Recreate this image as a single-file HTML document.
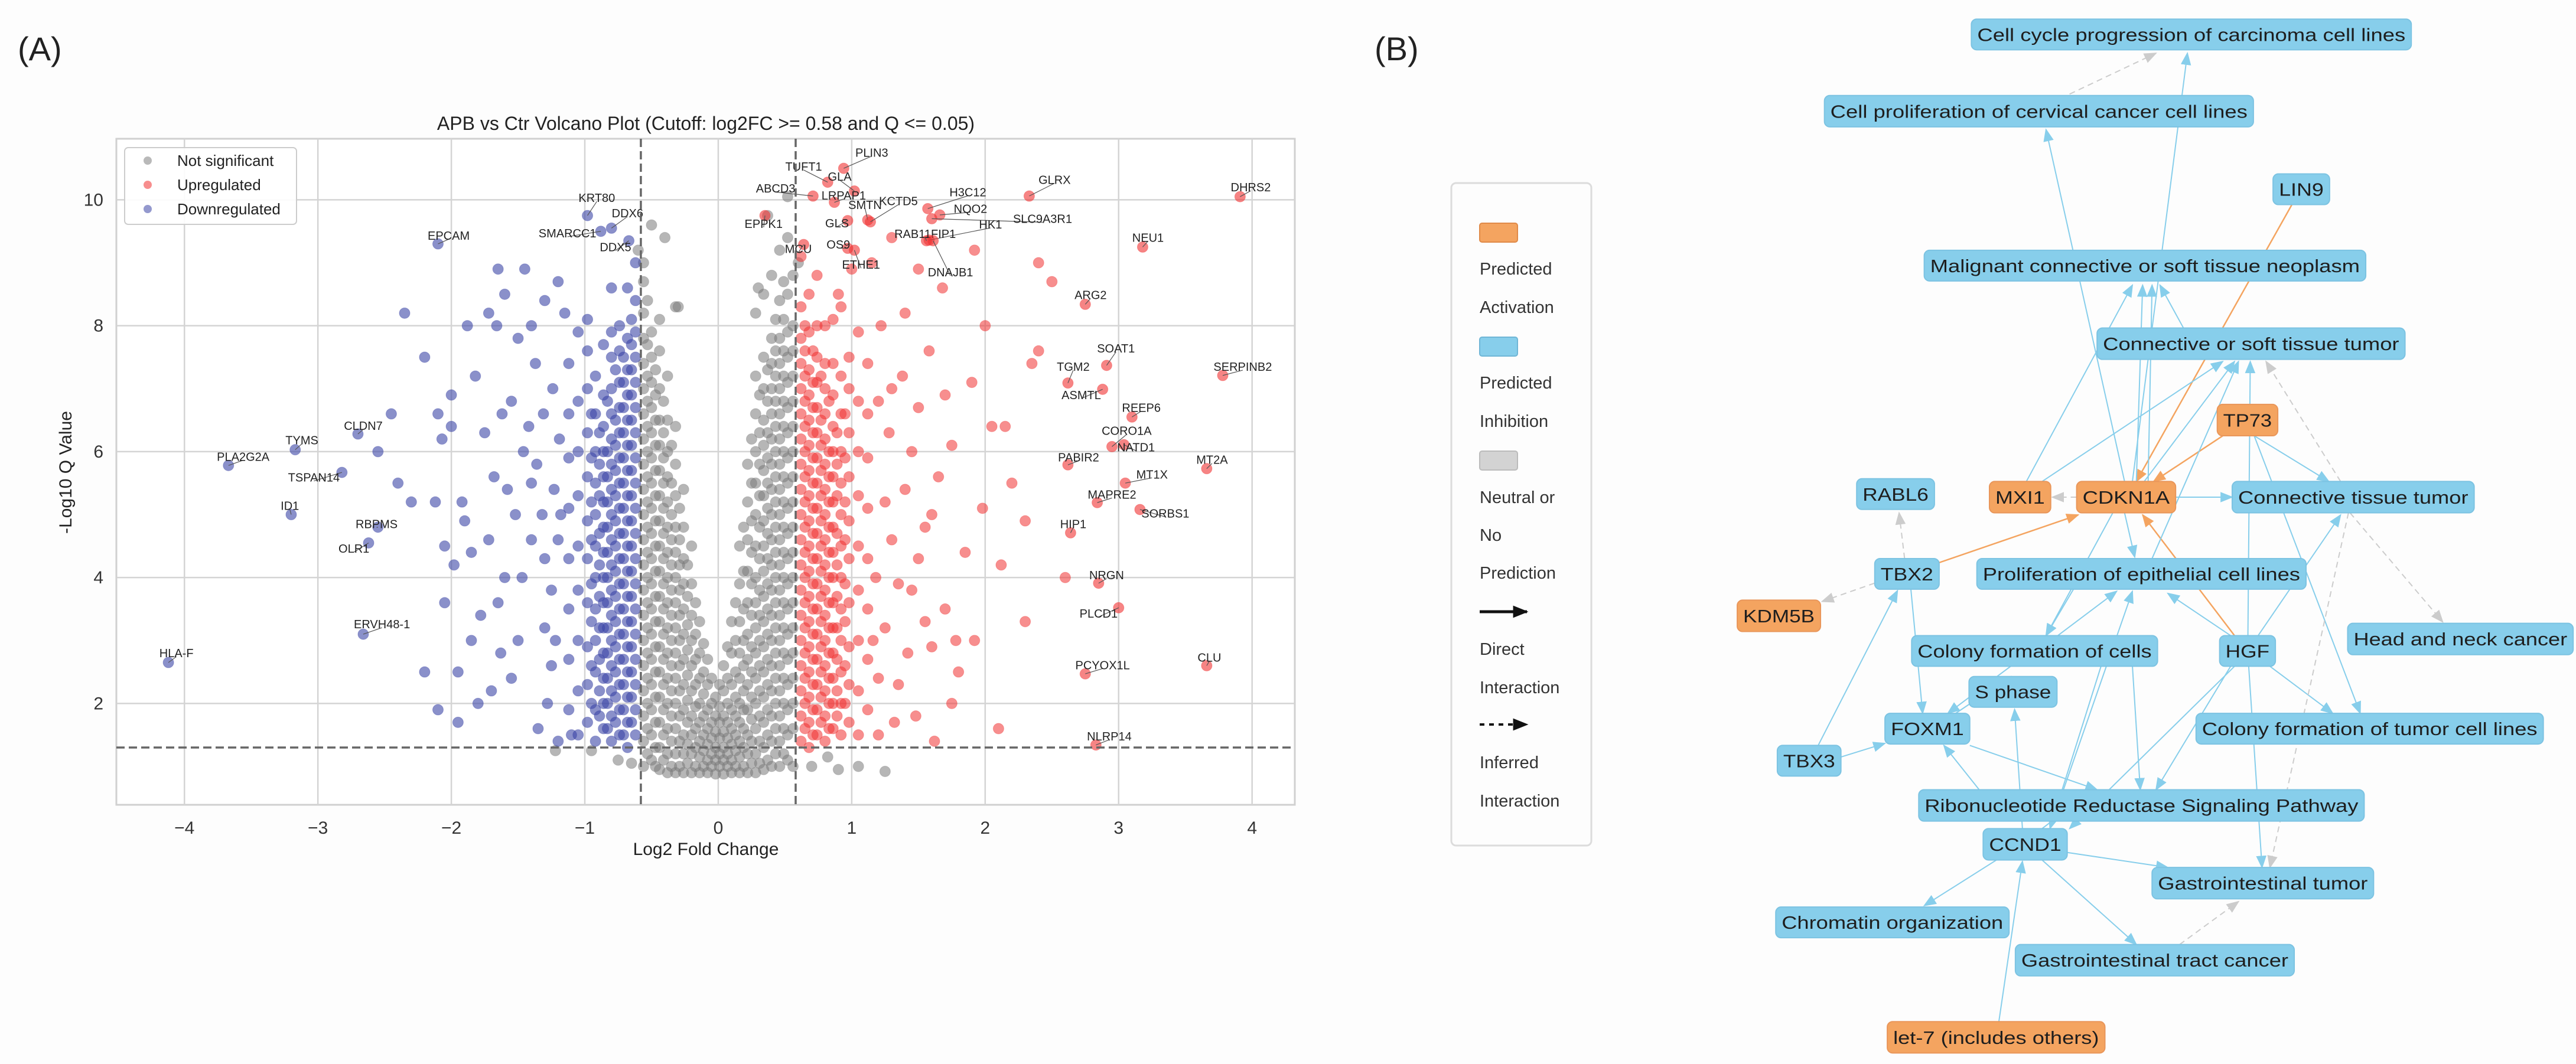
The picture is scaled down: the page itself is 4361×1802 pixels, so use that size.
<!DOCTYPE html>
<html><head><meta charset="utf-8"><style>
html,body{margin:0;padding:0;background:#fdfdfd;}
svg{display:block;font-family:"Liberation Sans",sans-serif;}
</style></head><body>
<svg id="fig" width="4361" height="1802" viewBox="0 0 4361 1802" xmlns="http://www.w3.org/2000/svg">
<defs>
<marker id="ab" viewBox="0 0 10 10" refX="9" refY="5" markerWidth="22" markerHeight="22" markerUnits="userSpaceOnUse" orient="auto"><path d="M0,1 L10,5 L0,9 z" fill="#87ceeb"/></marker>
<marker id="ao" viewBox="0 0 10 10" refX="9" refY="5" markerWidth="22" markerHeight="22" markerUnits="userSpaceOnUse" orient="auto"><path d="M0,1 L10,5 L0,9 z" fill="#f4a460"/></marker>
<marker id="ag" viewBox="0 0 10 10" refX="9" refY="5" markerWidth="22" markerHeight="22" markerUnits="userSpaceOnUse" orient="auto"><path d="M0,1 L10,5 L0,9 z" fill="#cccccc"/></marker>
<marker id="ak" viewBox="0 0 10 10" refX="9" refY="5" markerWidth="26" markerHeight="26" markerUnits="userSpaceOnUse" orient="auto"><path d="M0,1 L10,5 L0,9 z" fill="#111"/></marker>
</defs>
<text x="30" y="102" font-size="56" fill="#222">(A)</text>
<text x="2327" y="102" font-size="56" fill="#222">(B)</text>
<g id="plot"></g>
<g id="net"></g>
<g id="legB">
<rect x="2457" y="310" width="237" height="1122" rx="8" fill="#fdfdfd" stroke="#dcdcdc" stroke-width="3"/>
<rect x="2505" y="378" width="64" height="32" rx="4" fill="#f4a460" stroke="#e08a48" stroke-width="2"/>
<text x="2505" y="465" font-size="29" fill="#333"><tspan x="2505">Predicted</tspan><tspan x="2505" dy="65">Activation</tspan></text>
<rect x="2505" y="571" width="64" height="32" rx="4" fill="#87ceeb" stroke="#6fb6d6" stroke-width="2"/>
<text x="2505" y="658" font-size="29" fill="#333"><tspan x="2505">Predicted</tspan><tspan x="2505" dy="65">Inhibition</tspan></text>
<rect x="2505" y="764" width="64" height="32" rx="4" fill="#d3d3d3" stroke="#bbb" stroke-width="2"/>
<text x="2505" y="852" font-size="29" fill="#333"><tspan x="2505">Neutral or</tspan><tspan x="2505" dy="64">No</tspan><tspan x="2505" dy="64">Prediction</tspan></text>
<line x1="2505" y1="1036" x2="2585" y2="1036" stroke="#111" stroke-width="5" marker-end="url(#ak)"/>
<text x="2505" y="1109" font-size="29" fill="#333"><tspan x="2505">Direct</tspan><tspan x="2505" dy="65">Interaction</tspan></text>
<line x1="2505" y1="1227" x2="2585" y2="1227" stroke="#111" stroke-width="4" stroke-dasharray="8,8" marker-end="url(#ak)"/>
<text x="2505" y="1301" font-size="29" fill="#333"><tspan x="2505">Inferred</tspan><tspan x="2505" dy="65">Interaction</tspan></text>
</g>
</svg>
<script>
// ===== Volcano data =====
const xTicks = [-4,-3,-2,-1,0,1,2,3,4];
const yTicks = [2,4,6,8,10];
const fcCutoff = 0.58;
const qCutoff = 1.3;
const grayCols = [
[-0.56,[1.0,1.4,1.8,2.2,2.6,3.0,3.4,3.8,4.2,4.6,5.0,5.4,5.8,6.2,6.6,7.0,7.4,7.8,8.2,8.7,9.0]],
[-0.53,[1.2,1.6,2.0,2.4,2.8,3.2,3.6,4.0,4.4,4.8,5.2,5.6,6.0,6.4,6.8,7.2,7.7,8.4]],
[-0.50,[1.1,1.5,1.9,2.3,2.7,3.1,3.5,3.9,4.3,4.7,5.1,5.5,5.9,6.3,6.7,7.1,7.5,7.9]],
[-0.47,[1.0,1.3,1.7,2.1,2.5,2.9,3.3,3.7,4.1,4.5,4.9,5.3,5.7,6.1,6.5,6.9,7.3]],
[-0.44,[0.95,1.3,1.7,2.1,2.5,2.9,3.3,3.7,4.1,4.5,4.9,5.3,5.7,6.1,6.5,7.0,7.6,8.1]],
[-0.41,[1.1,1.5,1.9,2.3,2.7,3.1,3.5,3.9,4.3,4.7,5.1,5.5,5.9,6.3,6.8]],
[-0.38,[0.9,1.2,1.6,2.0,2.4,2.8,3.2,3.6,4.0,4.4,4.8,5.2,5.6,6.0,6.5,7.2]],
[-0.35,[1.0,1.4,1.8,2.2,2.6,3.0,3.4,3.8,4.2,4.6,5.0,5.5,6.1]],
[-0.32,[0.9,1.2,1.6,2.0,2.4,2.8,3.2,3.6,4.0,4.4,4.8,5.3,5.8,6.4,8.3]],
[-0.29,[1.0,1.4,1.8,2.2,2.6,3.0,3.4,3.8,4.2,4.6,5.1]],
[-0.26,[0.9,1.2,1.5,1.9,2.3,2.7,3.1,3.5,3.9,4.3,4.8,5.4]],
[-0.23,[1.05,1.35,1.7,2.05,2.45,2.85,3.25,3.7,4.2]],
[-0.20,[0.9,1.2,1.5,1.8,2.2,2.6,3.0,3.4,3.9,4.5]],
[-0.17,[1.0,1.3,1.6,1.95,2.3,2.7,3.1,3.6]],
[-0.14,[0.9,1.15,1.4,1.7,2.0,2.4,2.8,3.3]],
[-0.11,[1.0,1.25,1.5,1.8,2.15,2.5,2.95]],
[-0.08,[0.9,1.1,1.35,1.6,1.9,2.3,2.7]],
[-0.05,[1.0,1.2,1.45,1.7,2.0,2.4]],
[-0.02,[0.88,1.1,1.3,1.55,1.8,2.1]],
[0.01,[1.0,1.2,1.45,1.7,1.95,2.3]],
[0.04,[0.88,1.1,1.3,1.55,1.8,2.2,2.6]],
[0.07,[1.0,1.2,1.45,1.7,2.0,2.4,2.9]],
[0.10,[0.9,1.1,1.35,1.6,1.9,2.3,2.8,3.3]],
[0.13,[1.0,1.25,1.5,1.8,2.1,2.5,3.0,3.6]],
[0.16,[0.9,1.15,1.4,1.7,2.0,2.4,2.8,3.3,3.9,4.5]],
[0.19,[1.0,1.3,1.6,1.9,2.2,2.6,3.0,3.5,4.1,4.8]],
[0.22,[0.9,1.2,1.5,1.9,2.3,2.7,3.1,3.6,4.1,4.6,5.2,5.8]],
[0.25,[1.05,1.4,1.75,2.1,2.5,2.9,3.4,3.9,4.4,4.9,5.5,6.2]],
[0.28,[0.9,1.2,1.6,2.0,2.4,2.8,3.2,3.6,4.0,4.5,5.0,5.5,6.0,6.6,7.2,8.2]],
[0.31,[1.05,1.4,1.8,2.2,2.6,3.0,3.4,3.8,4.3,4.8,5.3,5.8,6.3,6.9]],
[0.34,[0.95,1.3,1.7,2.1,2.5,2.9,3.3,3.7,4.1,4.5,4.9,5.3,5.7,6.1,6.5,7.0,7.5,8.5]],
[0.37,[1.1,1.5,1.9,2.3,2.7,3.1,3.5,3.9,4.3,4.7,5.1,5.5,5.9,6.3,6.8,7.3]],
[0.40,[1.0,1.4,1.8,2.2,2.6,3.0,3.4,3.8,4.2,4.6,5.0,5.4,5.8,6.2,6.6,7.0,7.4,7.8,8.8]],
[0.43,[1.2,1.6,2.0,2.4,2.8,3.2,3.6,4.0,4.4,4.8,5.2,5.6,6.0,6.4,6.8,7.2,7.6,8.1]],
[0.46,[1.0,1.4,1.8,2.2,2.6,3.0,3.4,3.8,4.2,4.6,5.0,5.4,5.8,6.2,6.6,7.0,7.4,7.8,8.4,9.2]],
[0.49,[1.2,1.6,2.0,2.4,2.8,3.2,3.6,4.0,4.4,4.8,5.2,5.6,6.0,6.4,6.8,7.2,7.6,8.1,8.7]],
[0.52,[1.1,1.5,1.9,2.3,2.7,3.1,3.5,3.9,4.3,4.7,5.1,5.5,5.9,6.3,6.7,7.1,7.5,7.9,8.5,9.4]],
[0.56,[1.0,1.6,2.0,2.4,2.8,3.2,3.6,4.0,4.4,4.8,5.2,5.6,6.0,6.4,6.8,7.2,7.6,8.0,8.8]]
];
const grayExtra = [[-0.95,1.25],[-0.75,1.1],[-0.65,1.05],[0.7,1.0],[0.82,1.15],[0.9,0.95],[1.05,1.0],[1.25,0.92],[-1.22,1.25],[-0.5,9.6],[-0.4,9.4],[0.37,9.75],[0.52,10.05],[-0.3,8.3],[0.3,8.6],[-0.6,9.2],[0.6,9.0]];
const blueCols = [
[-0.62,[1.5,1.9,2.3,2.7,3.1,3.5,3.9,4.3,4.7,5.1,5.5,5.9,6.3,6.7,7.1,7.5,7.9,8.4,9.0]],
[-0.65,[1.7,2.1,2.5,2.9,3.3,3.7,4.1,4.5,4.9,5.3,5.7,6.1,6.5,6.9,7.3,7.7,8.1]],
[-0.68,[1.3,1.7,2.1,2.5,2.9,3.3,3.7,4.1,4.5,4.9,5.3,5.7,6.1,6.5,6.9,7.3,7.8,8.6]],
[-0.71,[1.5,1.9,2.3,2.7,3.1,3.5,3.9,4.3,4.7,5.1,5.5,5.9,6.3,6.7,7.1,7.5]],
[-0.74,[1.5,1.9,2.3,2.7,3.1,3.5,3.9,4.3,4.7,5.1,5.5,5.9,6.3,6.7,7.1,7.6,8.0]],
[-0.77,[1.7,2.1,2.5,2.9,3.3,3.7,4.1,4.5,4.9,5.3,5.7,6.1,6.5,7.3]],
[-0.80,[1.4,1.8,2.2,2.6,3.0,3.4,3.8,4.2,4.6,5.0,5.4,5.8,6.2,6.6,7.0,7.5,7.9,8.6]],
[-0.83,[1.6,2.0,2.4,2.8,3.2,3.6,4.0,4.4,4.8,5.2,5.6,6.0,6.8]],
[-0.86,[1.6,2.0,2.4,2.8,3.2,3.6,4.0,4.4,4.8,5.2,5.6,6.0,6.4,6.9,7.7]],
[-0.89,[1.8,2.2,2.7,3.2,3.7,4.2,4.7,5.3,5.8,6.3]],
[-0.92,[1.4,1.9,2.5,3.0,3.5,4.0,4.5,5.0,5.5,6.0,6.6,7.2]],
[-0.95,[2.0,2.6,3.3,3.9,4.6,5.2,5.9,6.6]],
[-0.98,[1.7,2.3,2.9,3.6,4.3,4.9,5.6,6.3,7.0,7.6,8.1]],
[-1.05,[1.5,2.2,3.0,3.8,4.5,5.3,6.0,6.8,7.9]],
[-1.12,[1.9,2.7,3.5,4.3,5.1,5.9,6.6,7.4]]
];
const blueExtra = [[-1.2,8.7],[-1.3,8.4],[-1.45,8.9],[-1.5,7.8],[-1.55,6.8],[-1.6,4.0],[-1.7,2.2],[-1.75,6.3],[-1.85,3.0],[-1.9,4.9],[-2.0,6.9],[-2.2,7.5],[-2.35,8.2],[-2.1,1.9],[-2.2,2.5],[-2.05,3.6],[-2.3,5.2],[-1.88,8.0],[-1.95,1.7],[-1.6,8.5],[-1.72,8.2],[-1.4,5.5],[-1.3,3.2],[-1.35,1.6],[-1.25,2.6],[-1.4,4.6],[-1.2,1.4],[-1.22,3.0],[-1.25,3.8],[-1.2,4.6],[-1.23,5.4],[-1.19,6.2],[-1.24,7.0],[-1.32,5.0],[-1.36,5.8],[-1.31,6.6],[-1.37,7.4],[-1.47,4.0],[-1.5,3.0],[-1.46,6.0],[-1.52,5.0],[-1.63,2.8],[-1.65,3.6],[-1.68,5.6],[-1.62,6.6],[-1.8,2.0],[-1.78,3.4],[-1.85,4.4],[-1.82,7.2],[-1.95,2.5],[-1.98,4.2],[-1.92,5.2],[-2.0,6.4],[-2.12,5.2],[-2.07,6.2],[-2.05,4.5],[-2.4,5.5],[-2.45,6.6],[-2.55,6.0],[-2.1,6.6],[-1.66,8.0],[-1.65,8.9],[-1.28,2.0],[-1.3,4.3],[-1.18,5.0],[-1.42,6.4],[-1.55,2.4],[-1.58,5.4],[-1.72,4.6],[-1.15,8.2],[-1.4,8.0],[-1.1,1.5]];
const redCols = [
[0.62,[1.4,1.8,2.2,2.6,3.0,3.4,3.8,4.2,4.6,5.0,5.4,5.8,6.2,6.6,7.0,7.4,7.8,8.3,9.1]],
[0.65,[1.6,2.0,2.4,2.8,3.2,3.6,4.0,4.4,4.8,5.2,5.6,6.0,6.4,6.8,7.2,7.6,8.0]],
[0.68,[1.3,1.7,2.1,2.5,2.9,3.3,3.7,4.1,4.5,4.9,5.3,5.7,6.1,6.5,6.9,7.3,7.9,8.5]],
[0.71,[1.5,1.9,2.3,2.7,3.1,3.5,3.9,4.3,4.7,5.1,5.5,5.9,6.3,6.7,7.1,7.6]],
[0.74,[1.5,1.9,2.3,2.7,3.1,3.5,3.9,4.3,4.7,5.1,5.5,5.9,6.3,6.7,7.1,7.5,8.0,8.8]],
[0.77,[1.7,2.1,2.5,2.9,3.3,3.7,4.1,4.5,4.9,5.3,5.7,6.1,6.5,7.2]],
[0.80,[1.4,1.8,2.2,2.6,3.0,3.4,3.8,4.2,4.6,5.0,5.4,5.8,6.2,6.6,7.0,7.4,8.0]],
[0.83,[1.6,2.0,2.4,2.8,3.2,3.6,4.0,4.4,4.8,5.2,5.6,6.0,6.8]],
[0.86,[1.6,2.0,2.4,2.8,3.2,3.6,4.0,4.4,4.8,5.2,5.6,6.0,6.4,6.9,7.4,8.1]],
[0.89,[1.8,2.2,2.7,3.2,3.7,4.2,4.7,5.3,5.8,6.3]],
[0.92,[1.5,2.0,2.5,3.0,3.5,4.0,4.5,5.0,5.5,6.0,6.6,7.2,8.3]],
[0.95,[2.0,2.6,3.3,3.9,4.6,5.2,5.9,6.6]],
[0.98,[1.7,2.3,2.9,3.6,4.3,4.9,5.6,6.3,7.0,7.5]],
[1.05,[1.5,2.2,3.0,3.8,4.5,5.3,6.0,6.8,7.9]],
[1.12,[1.9,2.7,3.5,4.3,5.1,5.9,6.6,7.4]]
];
const redExtra = [[1.2,1.5],[1.25,3.2],[1.3,4.6],[1.28,6.3],[1.22,8.0],[1.35,2.3],[1.4,5.4],[1.38,7.2],[1.45,3.8],[1.5,6.7],[1.48,1.8],[1.55,4.8],[1.6,2.9],[1.58,7.6],[1.65,5.6],[1.7,3.5],[1.68,8.6],[1.75,6.1],[1.8,2.5],[1.85,4.4],[1.9,7.1],[1.92,3.0],[1.98,5.1],[2.0,8.0],[2.05,6.4],[2.1,1.6],[2.2,5.5],[2.3,4.9],[2.3,3.3],[2.35,7.4],[2.4,9.0],[2.4,7.6],[2.5,8.7],[2.6,4.0],[2.12,4.2],[1.62,1.4],[1.15,9.0],[0.9,8.5],[1.0,8.9],[1.3,9.4],[1.5,8.9],[1.92,9.2],[2.15,6.4],[1.78,3.0],[1.2,2.4],[1.25,5.2],[1.3,7.0],[1.35,3.9],[1.42,2.8],[1.45,6.0],[1.55,3.3],[1.6,5.0],[1.7,6.9],[1.75,2.0],[1.18,4.0],[1.2,6.8],[1.32,1.7],[1.4,8.2],[1.5,4.3],[1.16,3.0]];
const geneNames = ["HLA-F","PLA2G2A","TYMS","TSPAN14","ID1","CLDN7","RBPMS","OLR1","ERVH48-1","EPCAM","KRT80","SMARCC1","DDX6","DDX5",
"PLIN3","TUFT1","GLA","ABCD3","LRPAP1","SMTN","KCTD5","H3C12","NQO2","SLC9A3R1","HK1","GLRX","DHRS2","EPPK1","GLS","RAB11FIP1","MCU","OS9","ETHE1","DNAJB1","NEU1","ARG2","SOAT1","TGM2","ASMTL","SERPINB2","REEP6","CORO1A","NATD1","PABIR2","MT2A","MT1X","MAPRE2","SORBS1","HIP1","NRGN","PLCD1","PCYOX1L","CLU","NLRP14"];
const geneFC = [-4.12,-3.67,-3.17,-2.82,-3.2,-2.7,-2.55,-2.62,-2.66,-2.1,-0.98,-0.88,-0.8,-0.67,
0.94,0.82,1.02,0.71,0.87,1.12,1.14,1.57,1.66,1.6,1.58,2.33,3.91,0.35,0.97,1.56,0.64,0.97,1.02,1.61,3.18,2.75,2.91,2.62,2.88,3.78,3.1,2.95,3.04,2.62,3.66,3.05,2.84,3.16,2.64,2.85,3.0,2.75,3.66,2.83];
const geneQ = [2.65,5.78,6.03,5.67,5.0,6.28,4.8,4.55,3.1,9.3,9.75,9.5,9.55,9.35,
10.5,10.28,10.14,10.06,9.96,9.68,9.65,9.86,9.76,9.7,9.36,10.06,10.05,9.75,9.67,9.35,9.29,9.23,9.2,9.35,9.25,8.34,7.37,7.09,6.99,7.21,6.55,6.08,6.11,5.79,5.73,5.5,5.19,5.08,4.71,3.91,3.52,2.47,2.6,1.34];
const labelFC = [-4.06,-3.56,-3.12,-3.03,-3.21,-2.66,-2.56,-2.73,-2.52,-2.02,-0.91,-1.13,-0.68,-0.77,
1.15,0.64,0.91,0.43,0.94,1.1,1.35,1.87,1.89,2.43,2.04,2.52,3.99,0.34,0.89,1.55,0.6,0.9,1.07,1.74,3.22,2.79,2.98,2.66,2.72,3.93,3.17,3.06,3.13,2.7,3.7,3.25,2.95,3.35,2.66,2.91,2.85,2.88,3.68,2.93];
const labelQ = [2.8,5.92,6.18,5.59,5.14,6.41,4.85,4.46,3.26,9.43,10.03,9.47,9.79,9.25,
10.75,10.53,10.37,10.18,10.07,9.92,9.98,10.12,9.86,9.7,9.61,10.32,10.2,9.62,9.63,9.46,9.22,9.29,8.97,8.85,9.4,8.49,7.64,7.35,6.9,7.35,6.7,6.33,6.07,5.91,5.87,5.64,5.32,5.02,4.85,4.04,3.43,2.61,2.73,1.48];

const NS="http://www.w3.org/2000/svg";
const P={l:197,r:2192,t:235,b:1363};
const XD=[-4.51,4.32], YD=[0.39,10.97];
function sx(v){return P.l+(v-XD[0])/(XD[1]-XD[0])*(P.r-P.l);}
function sy(v){return P.b-(v-YD[0])/(YD[1]-YD[0])*(P.b-P.t);}
function mk(tag,attrs,parent){const e=document.createElementNS(NS,tag);for(const k in attrs)e.setAttribute(k,attrs[k]);parent.appendChild(e);return e;}
const plot=document.getElementById('plot');
const bg=mk('rect',{x:P.l,y:P.t,width:P.r-P.l,height:P.b-P.t,fill:'#ffffff',stroke:'#d0d0d0','stroke-width':3},plot);


xTicks.forEach(v=>{
  const g=mk('line',{x1:sx(v),x2:sx(v),y1:P.t,y2:P.b,stroke:'#d4d4d4','stroke-width':2.5},plot);
  
  
  const t=mk('text',{x:sx(v),y:1412,'font-size':30,'text-anchor':'middle',fill:'#333'},plot);
  t.textContent=(v<0?'\u2212':'')+Math.abs(v);
  
  
});
yTicks.forEach(v=>{
  const g=mk('line',{x1:P.l,x2:P.r,y1:sy(v),y2:sy(v),stroke:'#d4d4d4','stroke-width':2.5},plot);
  
  
  const t=mk('text',{x:P.l-22,y:sy(v)+10,'font-size':30,'text-anchor':'end',fill:'#333'},plot);
  t.textContent=v;
  
  
});
function dot(x,y,fill,op,name){
  const c=mk('circle',{cx:sx(x),cy:sy(y),r:9,fill:fill,'fill-opacity':op,stroke:fill,'stroke-opacity':op*0.6,'stroke-width':1},plot);
  
  
}
grayCols.forEach(([x,ys])=>ys.forEach(y=>dot(x,y,'#7a7a7a',0.55,'point-not-significant')));
grayExtra.forEach(([x,y])=>dot(x,y,'#7a7a7a',0.55,'point-not-significant'));
blueCols.forEach(([x,ys])=>ys.forEach(y=>dot(x,y,'#3c46a6',0.6,'point-downregulated')));
blueExtra.forEach(([x,y])=>dot(x,y,'#3c46a6',0.6,'point-downregulated'));
redCols.forEach(([x,ys])=>ys.forEach(y=>dot(x,y,'#f03232',0.55,'point-upregulated')));
redExtra.forEach(([x,y])=>dot(x,y,'#f03232',0.55,'point-upregulated'));
geneNames.forEach((n,i)=>{
  const up=geneFC[i]>0;
  dot(geneFC[i],geneQ[i],up?'#f03232':'#3c46a6',0.6,'point-gene-'+n.toLowerCase());
  const ln=mk('line',{x1:sx(geneFC[i]),y1:sy(geneQ[i]),x2:sx(labelFC[i]),y2:sy(labelQ[i])+6,stroke:'#555','stroke-width':1.2},plot);
  
  
  const t=mk('text',{x:sx(labelFC[i]),y:sy(labelQ[i])+7,'font-size':20,'text-anchor':'middle',fill:'#222'},plot);
  t.textContent=n;
  
  
});
[-fcCutoff,fcCutoff].forEach(v=>{
  const l=mk('line',{x1:sx(v),x2:sx(v),y1:P.t,y2:P.b,stroke:'#666','stroke-width':3.5,'stroke-dasharray':'14,7'},plot);
  
  
});
const hq=mk('line',{x1:P.l,x2:P.r,y1:sy(qCutoff),y2:sy(qCutoff),stroke:'#666','stroke-width':3.5,'stroke-dasharray':'14,7'},plot);


const tt=mk('text',{x:1195,y:220,'font-size':32,'text-anchor':'middle',fill:'#222'},plot);
tt.textContent='APB vs Ctr Volcano Plot (Cutoff: log2FC >= 0.58 and Q <= 0.05)';


const xl=mk('text',{x:1195,y:1448,'font-size':30,'text-anchor':'middle',fill:'#222'},plot);
xl.textContent='Log2 Fold Change';


const yl=mk('text',{x:0,y:0,'font-size':30,'text-anchor':'middle',fill:'#222',transform:'translate(121,800) rotate(-90)'},plot);
yl.textContent='-Log10 Q Value';


const lg=mk('rect',{x:211,y:250,width:291,height:130,rx:6,fill:'#ffffff','fill-opacity':0.9,stroke:'#cccccc','stroke-width':2},plot);


[['Not significant','#808080'],['Upregulated','#f03232'],['Downregulated','#3c46a6']].forEach((e,i)=>{
  const c=mk('circle',{cx:250,cy:272+i*41,r:7,fill:e[1],'fill-opacity':0.55},plot);
  
  
  const t=mk('text',{x:300,y:281+i*41,'font-size':26,fill:'#222'},plot);
  t.textContent=e[0];
  
  
});

// ===== Network =====
const net=document.getElementById('net');
function X(z){return 2300+1.33*z;} function Y(z){return 1.155*z;}
const nodes=[
['Cell cycle progression of carcinoma cell lines',780,28,1340,73,'b'],
['Cell proliferation of cervical cancer cell lines',593,140,1139,186,'b'],
['LIN9',1164,255,1236,300,'b'],
['Malignant connective or soft tissue neoplasm',720,367,1282,412,'b'],
['Connective or soft tissue tumor',940,481,1332,527,'b'],
['TP73',1093,593,1170,639,'o'],
['RABL6',634,702,733,747,'b'],
['MXI1',803,706,881,752,'o'],
['CDKN1A',914,706,1040,752,'o'],
['Connective tissue tumor',1112,706,1420,752,'b'],
['TBX2',657,819,739,864,'b'],
['Proliferation of epithelial cell lines',787,819,1206,864,'b'],
['KDM5B',482,880,588,926,'o'],
['Head and neck cancer',1259,914,1546,960,'b'],
['Colony formation of cells',704,932,1017,977,'b'],
['HGF',1096,932,1167,977,'b'],
['S phase',777,992,889,1037,'b'],
['FOXM1',670,1046,778,1091,'b'],
['Colony formation of tumor cell lines',1066,1046,1508,1091,'b'],
['TBX3',533,1093,614,1138,'b'],
['Ribonucleotide Reductase Signaling Pathway',713,1158,1280,1204,'b'],
['CCND1',795,1215,902,1261,'b'],
['Gastrointestinal tumor',1010,1272,1292,1318,'b'],
['Chromatin organization',531,1330,828,1375,'b'],
['Gastrointestinal tract cancer',836,1385,1191,1431,'b'],
['let-7 (includes others)',673,1498,950,1544,'o']
];
const edges=[
[905,138,1015,78,'g'],[985,706,1055,78,'b'],[975,706,875,190,'b'],
[1188,300,990,706,'o'],[1100,639,1012,706,'o'],[1115,932,998,755,'o'],[739,825,916,755,'o'],
[850,706,985,418,'b'],[990,706,998,418,'b'],[1050,481,1020,418,'b'],[1005,706,1010,418,'b'],
[870,706,1100,530,'b'],[1000,706,1115,530,'b'],[1132,932,1135,530,'b'],[1250,706,1155,530,'g'],
[1262,752,1380,912,'g'],[1140,639,1235,706,'b'],[1140,639,1275,1046,'b'],[1040,729,1112,729,'b'],
[914,729,883,729,'g'],[695,819,688,752,'g'],[657,855,590,882,'g'],[703,864,718,1046,'b'],
[585,1093,686,866,'b'],[614,1110,670,1090,'b'],[975,752,988,817,'b'],[960,752,875,932,'b'],
[1110,932,1030,870,'b'],[890,932,965,867,'b'],[880,1215,985,867,'b'],[1145,932,1250,755,'b'],
[1160,977,1240,1046,'b'],[1110,977,1015,1158,'b'],[1115,977,905,1215,'b'],[1133,977,1150,1272,'b'],
[1260,752,1160,1272,'g'],[902,1250,1030,1272,'b'],[812,1261,720,1328,'b'],[870,1261,990,1385,'b'],
[1045,1385,1120,1322,'g'],[815,1498,845,1263,'b'],[790,1158,745,1093,'b'],[778,1093,940,1158,'b'],
[845,1215,835,1040,'b'],[830,977,750,1046,'b'],[985,977,995,1158,'b'],[1010,819,1120,530,'b'],
[910,864,875,932,'b'],[760,1046,830,992,'b'],[870,1215,935,1158,'b'],[945,977,880,1215,'b']
];
edges.forEach(e=>{
  const col=e[4]==='o'?'#f4a460':e[4]==='g'?'#cccccc':'#87ceeb';
  const a={x1:X(e[0]),y1:Y(e[1]),x2:X(e[2]),y2:Y(e[3]),stroke:col,'stroke-width':e[4]==='o'?2.5:2,'marker-end':'url(#a'+e[4]+')'};
  if(e[4]==='g')a['stroke-dasharray']='10,7';
  const l=mk('line',a,net);
  
  
});
nodes.forEach(n=>{
  const x1=X(n[1]),y1=Y(n[2]),x2=X(n[3]),y2=Y(n[4]);
  const g=mk('g',{},net);
  
  
  mk('rect',{x:x1,y:y1,width:x2-x1,height:y2-y1,rx:9,fill:n[5]==='o'?'#f4a460':'#87ceeb',stroke:n[5]==='o'?'#e9965a':'#7cc3e2','stroke-width':2},g);
  const t=mk('text',{x:(x1+x2)/2,y:(y1+y2)/2+11,'font-size':31,'text-anchor':'middle',fill:'#1e1e1e',textLength:(x2-x1)-20,lengthAdjust:'spacingAndGlyphs'},g);
  t.textContent=n[0];
});
</script>
</body></html>
